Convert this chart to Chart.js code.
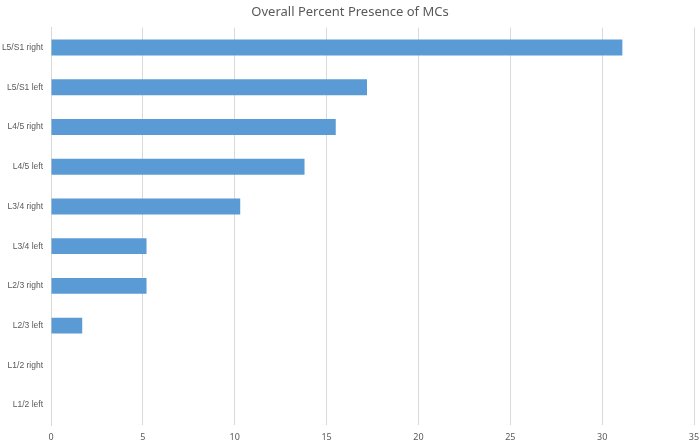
<!DOCTYPE html>
<html>
<head>
<meta charset="utf-8">
<script src="https://cdn.jsdelivr.net/npm/chart.js@4"></script>
<style>
  html, body { margin: 0; padding: 0; background: #fff; }
  #wrap { width: 700px; height: 442px; }
</style>
</head>
<body>
<div id="wrap"><canvas id="mcChart" width="700" height="442"></canvas></div>
<script>
const levels = ['L5/S1 right', 'L5/S1 left', 'L4/5 right', 'L4/5 left', 'L3/4 right',
                'L3/4 left', 'L2/3 right', 'L2/3 left', 'L1/2 right', 'L1/2 left'];
const presence = [31.1, 17.2, 15.5, 13.8, 10.3, 5.2, 5.2, 1.7, 0, 0];
const titleText = 'Overall Percent Presence of MCs';

const mcChart = document.getElementById('mcChart');

new Chart(mcChart, {
    type: 'bar',
    data: {
        labels: levels,
        datasets: [{
            label: 'Presence',
            data: presence,
            backgroundColor: '#5b9bd5',
            borderWidth: 0,
            barPercentage: 0.4,
            categoryPercentage: 1.0
        }]
    },
    options: {
        indexAxis: 'y',
        responsive: false,
        animation: false,
        layout: { padding: { left: 0, right: 0, top: 4, bottom: 0 } },
        plugins: {
            legend: { display: false },
            tooltip: { enabled: false },
            title: {
                display: true,
                text: titleText,
                color: '#595959',
                font: { family: 'Noto Sans', size: 13, weight: 'normal' },
                padding: { top: 0, bottom: 8 }
            }
        },
        scales: {
            x: {
                min: 0,
                max: 35,
                ticks: {
                    stepSize: 5,
                    color: '#595959',
                    font: { family: 'Noto Sans', size: 9 },
                    padding: 7
                },
                grid: { color: '#d9d9d9', lineWidth: 1, drawTicks: false },
                border: { display: false },
                afterFit: function (scale) {
                    scale.height = 17;
                    scale.paddingRight = 6;
                }
            },
            y: {
                ticks: {
                    color: '#595959',
                    font: { family: 'Liberation Sans', size: 8.5 },
                    padding: 8
                },
                grid: { display: false, drawTicks: false },
                border: { color: '#d9d9d9', width: 1 },
                afterFit: function (scale) { scale.width = 51; }
            }
        }
    }
});
</script>
</body>
</html>
